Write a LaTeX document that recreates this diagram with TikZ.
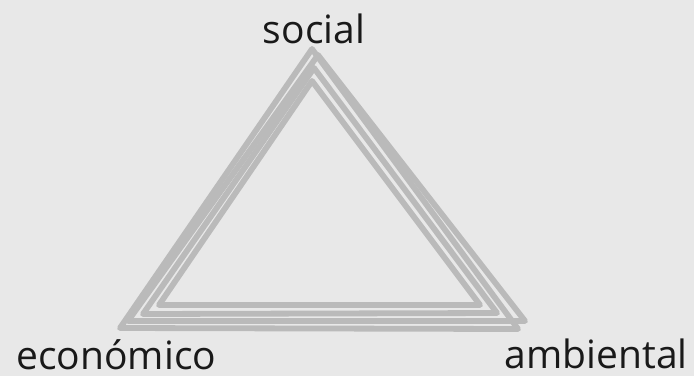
\documentclass[tikz,border=0pt]{standalone}
\usepackage{fontspec}
\setmainfont{Open Sans}
\usetikzlibrary{positioning}
\definecolor{bgcol}{RGB}{232,232,232}
\definecolor{tricol}{RGB}{186,186,186}
\definecolor{inkcol}{RGB}{25,25,25}

\begin{document}
\begin{tikzpicture}[
    x=0.5pt, y=-0.5pt,
    edge/.style={draw=tricol, line width=2.9pt, line join=round, line cap=round},
    every node/.style={font=\fontsize{19.5}{22}\selectfont, text=inkcol, inner sep=0pt}
]
\fill[bgcol] (0,0) rectangle (694,376);
\useasboundingbox (0,0) rectangle (694,376);
% corners of the sketched triangles, outer to inner
\coordinate (s1) at (312,49); \coordinate (e1) at (120,328); \coordinate (a1) at (518,329);
\coordinate (s2) at (318,55); \coordinate (e2) at (128,321); \coordinate (a2) at (525,321);
\coordinate (s3) at (314,68); \coordinate (e3) at (143,314); \coordinate (a3) at (497,313);
\coordinate (s4) at (312,81); \coordinate (e4) at (159,305); \coordinate (a4) at (480,305);
\draw[edge] (s1) -- (e1) -- (a1) -- cycle;
\draw[edge] (s2) -- (e2) -- (a2) -- cycle;
\draw[edge] (s3) -- (e3) -- (a3) -- cycle;
\draw[edge] (s4) -- (e4) -- (a4) -- cycle;
% labels
\node[anchor=base] (social) at (314,43) {social};
\node[anchor=base west] (econ) at (16,369) {económico};
\node[anchor=base east] (amb) at (688,368) {ambiental};
\end{tikzpicture}
\end{document}
